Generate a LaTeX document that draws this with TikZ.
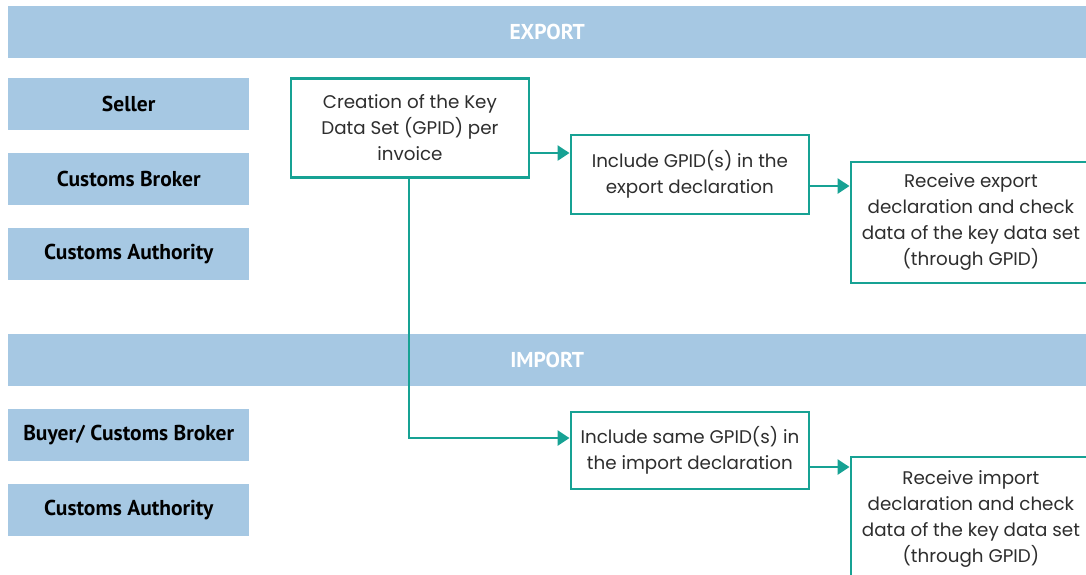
\documentclass[tikz,border=0pt]{standalone}
\usepackage{fontspec}
\setmainfont{Poppins}
\newfontfamily\labfont{PT Sans}
\usetikzlibrary{arrows.meta}
\definecolor{band}{HTML}{A6C8E3}
\definecolor{teal}{HTML}{17A294}
\definecolor{txt}{HTML}{2E2E2E}
\tikzset{
  bandbox/.style={fill=band, draw=none, inner sep=0pt, anchor=north west, text=white,
    font=\labfont\bfseries\fontsize{21.5}{24}\selectfont},
  rolebox/.style={fill=band, draw=none, inner sep=0pt, anchor=north west, text=black,
    minimum width=241pt, minimum height=52pt, font=\labfont\bfseries\fontsize{21.5}{24}\selectfont},
  stepbox/.style={draw=teal, line width=2.8pt, fill=white, anchor=north west, inner sep=0pt,
    align=center, text=txt, font=\fontsize{18.3}{26}\selectfont},
  arr/.style={draw=teal, line width=2.8pt, -{Triangle[length=12pt,width=15pt]}},
}
\begin{document}
\begin{tikzpicture}[x=1pt,y=-1pt]
\useasboundingbox (0,0) rectangle (1086,574);
\clip (0,0) rectangle (1086,574);
% bands
\node[bandbox, minimum width=1078pt, minimum height=52pt] (export) at (8,6) {EXPORT};
\node[bandbox, minimum width=1078pt, minimum height=52pt] (import) at (8,334) {IMPORT};
% roles
\node[rolebox] (seller) at (8,78) {Seller};
\node[rolebox] (broker) at (8,153) {Customs Broker};
\node[rolebox] (auth1) at (8,228) {Customs Authority};
\node[rolebox] (buyer) at (8,409) {Buyer/ Customs Broker};
\node[rolebox] (auth2) at (8,484) {Customs Authority};
% steps
\node[stepbox, minimum width=238pt, minimum height=99pt] (create) at (289.5,77)
  {Creation of the Key\\Data Set (GPID) per\\invoice};
\node[stepbox, minimum width=238pt, minimum height=79pt] (incl) at (569.5,133.5)
  {Include GPID(s) in the\\export declaration};
\node[stepbox, minimum width=240pt, minimum height=121pt] (recexp) at (849.5,160.5)
  {Receive export\\declaration and check\\data of the key data set\\(through GPID)};
\node[stepbox, minimum width=238pt, minimum height=77pt] (inclimp) at (569.5,410.5)
  {Include same GPID(s) in\\the import declaration};
\node[stepbox, minimum width=240pt, minimum height=125pt] (recimp) at (849.5,455.5)
  {Receive import\\declaration and check\\data of the key data set\\(through GPID)};
% connector heights
\coordinate (ya) at (0,153);
\coordinate (yb) at (0,186);
\coordinate (yc) at (0,438);
\coordinate (yd) at (0,467);
\coordinate (xa) at (409,0);
\draw[arr] (create.east |- ya) -- (incl.west |- ya);
\draw[arr] (incl.east |- yb) -- (recexp.west |- yb);
\draw[arr] (create.south -| xa) -- (xa |- yc) -- (inclimp.west |- yc);
\draw[arr] (inclimp.east |- yd) -- (recimp.west |- yd);
\end{tikzpicture}
\end{document}
